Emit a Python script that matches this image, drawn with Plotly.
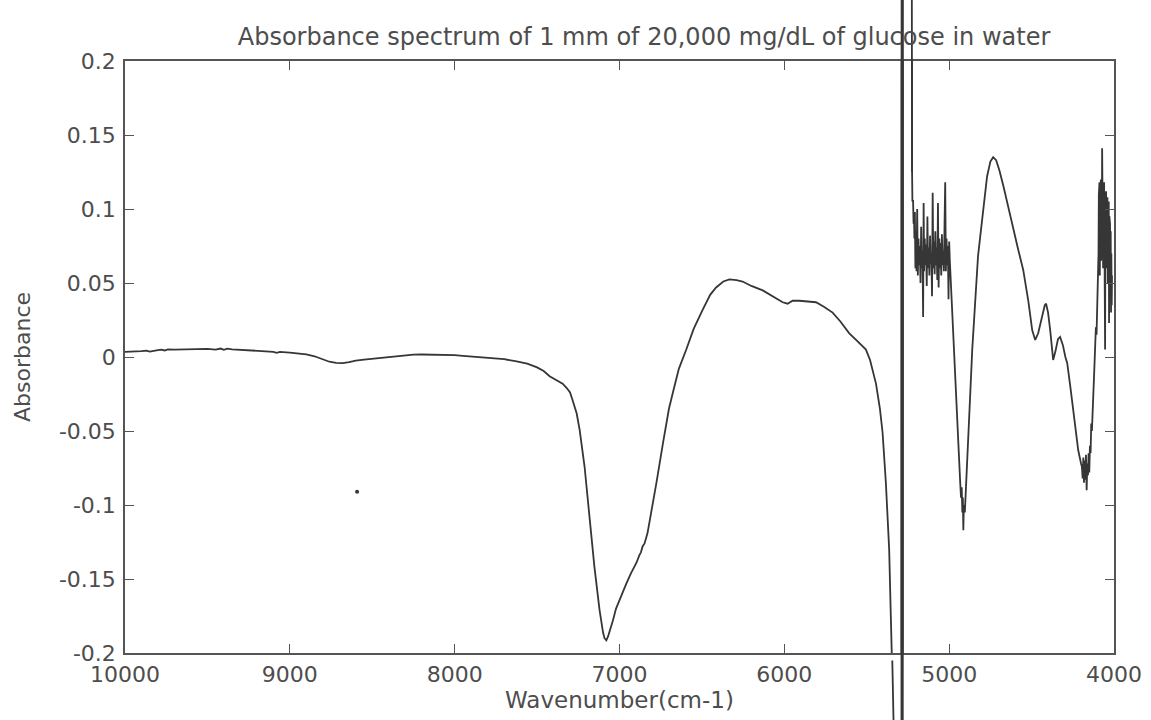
import numpy as np
import plotly.graph_objects as go

# ---------------- data ----------------
wavenumber = [
    10000, 9950, 9900, 9870, 9850, 9800, 9780, 9760, 9740, 9700, 9650, 9600, 9550, 9500,
    9450, 9420, 9400, 9380, 9350, 9300, 9250, 9200, 9150, 9100, 9080, 9060, 9000, 8950,
    8900, 8850, 8800, 8760, 8720, 8680, 8640, 8600, 8550, 8500, 8450, 8400, 8350, 8300,
    8250, 8200, 8100, 8000, 7950, 7900, 7850, 7800, 7700,
    7624, 7560, 7500, 7460, 7424, 7380, 7345, 7320, 7300, 7285, 7260, 7242, 7212, 7182, 7152, 7121,
    7110, 7100, 7091, 7080, 7070, 7061, 7040, 7021, 6990, 6958, 6930, 6897, 6880, 6870, 6860, 6848,
    6830, 6818, 6776, 6736, 6700, 6676, 6640, 6596, 6550, 6495, 6450, 6414, 6370, 6333, 6290,
    6253, 6200, 6131, 6070, 6010, 5980, 5950, 5909, 5860, 5808, 5760, 5707, 5660, 5606,
    5560, 5505, 5480, 5460, 5444, 5420, 5404, 5384, 5364, 5354, 5345, 5335, 5318,
    5290, 5288, 5286, 5284, 5282, 5280, 5231, 5229, 5228.5, 5228, 5227.5, 5227, 5225, 5223,
    5221, 5219, 5216, 5213, 5211,
    5208, 5205, 5202, 5198, 5194, 5190, 5186, 5182, 5178, 5174, 5170, 5166, 5162, 5158,
    5155, 5152, 5148, 5144, 5140, 5136, 5132, 5128, 5124, 5120, 5116, 5112, 5108, 5104,
    5100, 5096, 5092, 5088, 5084, 5080, 5076, 5072, 5068, 5064, 5060, 5056, 5052, 5048,
    5044, 5040, 5036, 5032, 5028, 5024, 5020, 5016, 5012, 5008, 5004, 5000, 4996, 4992,
    4985, 4976, 4965, 4951, 4940, 4933, 4928, 4924, 4920, 4917, 4914, 4911, 4905, 4898,
    4891, 4882, 4873, 4860, 4842, 4825, 4812, 4790, 4770, 4750, 4733, 4715, 4695, 4670,
    4640, 4612, 4580, 4551, 4520, 4496, 4478, 4460, 4436, 4420, 4412, 4400, 4387, 4375,
    4369, 4355, 4340, 4327, 4310, 4295, 4284, 4265, 4248, 4230, 4217, 4200,
    4195, 4190, 4186, 4182, 4178, 4174, 4170, 4166, 4162, 4158, 4154, 4150, 4146, 4142,
    4138, 4134, 4130, 4126, 4120, 4115, 4110, 4106, 4102, 4098,
    4094, 4092, 4090, 4088, 4086, 4084, 4082, 4080, 4078, 4076, 4074, 4072, 4070, 4068,
    4066, 4064, 4062, 4060, 4058, 4056, 4054, 4052, 4050, 4048, 4046, 4044, 4042, 4040,
    4038, 4036, 4034, 4032, 4030, 4028, 4026, 4024, 4022, 4020, 4018, 4016, 4014, 4012,
]

absorbance = [
    0.0035, 0.0036, 0.0040, 0.0043, 0.0037, 0.0046, 0.0050, 0.0044, 0.0052, 0.0050, 0.0052, 0.0055, 0.0054, 0.0055,
    0.0050, 0.0057, 0.0048, 0.0056, 0.0052, 0.0048, 0.0046, 0.0042, 0.0040, 0.0035, 0.0028, 0.0034, 0.0030, 0.0025,
    0.0018, 0.0005, -0.0015, -0.0032, -0.0040, -0.0041, -0.0035, -0.0025, -0.0018, -0.0012, -0.0005, 0.0002, 0.0008, 0.0014,
    0.0016, 0.0017, 0.0016, 0.0012, 0.0008, 0.0004, 0.0000, -0.0005, -0.0015,
    -0.003, -0.0045, -0.007, -0.0095, -0.013, -0.0155, -0.018, -0.021, -0.024, -0.029, -0.038, -0.049, -0.074, -0.108, -0.142, -0.171,
    -0.180, -0.186, -0.190, -0.1915, -0.189, -0.186, -0.178, -0.170, -0.161, -0.153, -0.146, -0.139, -0.134, -0.132, -0.128, -0.126,
    -0.119, -0.112, -0.085, -0.058, -0.035, -0.024, -0.008, 0.0047, 0.019, 0.032, 0.042, 0.047, 0.051, 0.0525, 0.052,
    0.051, 0.048, 0.045, 0.041, 0.037, 0.036, 0.038, 0.038, 0.0375, 0.037, 0.034, 0.030, 0.024, 0.016,
    0.011, 0.005, -0.002, -0.010, -0.018, -0.035, -0.051, -0.085, -0.130, -0.175, -0.205, -0.26, -0.6,
    -0.6, 0.6, -0.6, 0.6, -0.6, 0.6, 0.6, 0.178, 0.156, 0.175, 0.158, 0.170, 0.125, 0.105,
    0.097, 0.106, 0.090, 0.095, 0.080,
    0.098, 0.060, 0.085, 0.058, 0.100, 0.055, 0.080, 0.062, 0.075, 0.050, 0.088, 0.060, 0.072, 0.027,
    0.104, 0.058, 0.080, 0.062, 0.076, 0.048, 0.095, 0.060, 0.074, 0.055, 0.082, 0.063, 0.070, 0.041,
    0.111, 0.060, 0.078, 0.056, 0.085, 0.062, 0.074, 0.052, 0.104, 0.047, 0.080, 0.060, 0.077, 0.055,
    0.083, 0.062, 0.072, 0.058, 0.090, 0.118, 0.058, 0.080, 0.062, 0.075, 0.039, 0.078, 0.065, 0.055,
    0.040, 0.020, -0.010, -0.049, -0.072, -0.085, -0.095, -0.088, -0.105, -0.095, -0.117, -0.100, -0.105, -0.090,
    -0.072, -0.050, -0.027, 0.005, 0.041, 0.068, 0.081, 0.105, 0.122, 0.132, 0.135, 0.133, 0.126, 0.115,
    0.100, 0.086, 0.072, 0.059, 0.038, 0.018, 0.0115, 0.016, 0.027, 0.035, 0.036, 0.030, 0.018, 0.004,
    -0.002, 0.004, 0.012, 0.0135, 0.008, 0.000, -0.004, -0.020, -0.036, -0.052, -0.063, -0.072,
    -0.074, -0.082, -0.068, -0.085, -0.070, -0.083, -0.066, -0.090, -0.072, -0.080, -0.065, -0.078, -0.060, -0.065,
    -0.045, -0.050, -0.030, -0.027, -0.010, 0.005, 0.020, 0.015, 0.030, 0.052,
    0.070, 0.110, 0.060, 0.118, 0.055, 0.100, 0.070, 0.120, 0.065, 0.105, 0.080, 0.141, 0.075, 0.112,
    0.060, 0.100, 0.072, 0.118, 0.040, 0.115, 0.005, 0.105, 0.070, 0.112, 0.060, 0.095, 0.075, 0.108,
    0.050, 0.100, 0.070, 0.105, 0.023, 0.095, 0.060, 0.090, 0.040, 0.085, 0.030, 0.070, 0.035, 0.055,
]

stray_wavenumber = [8592]
stray_absorbance = [-0.091]

x_tickvals = [10000, 9000, 8000, 7000, 6000, 5000, 4000]
x_ticktext = ["10000", "9000", "8000", "7000", "6000", "5000", "4000"]
y_tickvals = [-0.2, -0.15, -0.1, -0.05, 0, 0.05, 0.1, 0.15, 0.2]
y_ticktext = ["-0.2", "-0.15", "-0.1", "-0.05", "0", "0.05", "0.1", "0.15", "0.2"]

title_text = "Absorbance spectrum of 1 mm of 20,000 mg/dL of glucose in water"
x_title = "Wavenumber(cm-1)"
y_title = "Absorbance"

# ---------------- layout geometry ----------------
W, H = 1151, 720
x_range = [10000, 4000]
y_range = [-0.2, 0.2]
px_left, px_right = 125, 1114
px_top, px_bottom = 61, 653
xdom = [px_left / W, px_right / W]
ydom = [1 - px_bottom / H, 1 - px_top / H]

# full-figure axes aligned with the main axes, so the saturated part of the
# spectrum can run past the frame as in the original plot
xs = (x_range[1] - x_range[0]) / (px_right - px_left)
ys = (y_range[1] - y_range[0]) / (px_bottom - px_top)
x2_range = [x_range[0] - px_left * xs, x_range[1] + (W - px_right) * xs]
y2_range = [y_range[0] - (H - px_bottom) * ys, y_range[1] + px_top * ys]

wn = np.array(wavenumber, dtype=float)
ab = np.array(absorbance, dtype=float)
over = (wn <= 5345) & (wn >= 5225)

FONT = "DejaVu Sans, Liberation Sans, Arial, sans-serif"
TXT = "#4d4d4d"
AX = "#555555"
LINE = "#363636"

fig = go.Figure()
fig.add_trace(go.Scatter(x=wn, y=ab, mode="lines", line=dict(color=LINE, width=1.8),
                         name="Absorbance", xaxis="x", yaxis="y", showlegend=False))
fig.add_trace(go.Scatter(x=wn[over], y=ab[over], mode="lines", line=dict(color=LINE, width=1.8),
                         name="Absorbance (off scale)", xaxis="x2", yaxis="y2", showlegend=False))
fig.add_trace(go.Scatter(x=stray_wavenumber, y=stray_absorbance, mode="markers",
                         marker=dict(color=LINE, size=4), xaxis="x", yaxis="y", showlegend=False))

axis_common = dict(showgrid=False, zeroline=False, showline=True, linecolor=AX, linewidth=1.5,
                   ticks="inside", ticklen=9, tickwidth=1.3, tickcolor=AX, mirror="ticks",
                   automargin=False,
                   tickfont=dict(family=FONT, size=22, color=TXT))

fig.update_layout(
    template="none",
    width=W, height=H,
    margin=dict(l=0, r=0, t=0, b=0, pad=0, autoexpand=False),
    paper_bgcolor="white", plot_bgcolor="rgba(0,0,0,0)",
    showlegend=False,
    title=dict(text=title_text, x=644 / W, xanchor="center", xref="paper",
               y=1 - 37 / H, yanchor="middle", yref="container", automargin=False,
               font=dict(family=FONT, size=24, color=TXT)),
    xaxis=dict(domain=xdom, range=x_range, anchor="y", tickvals=x_tickvals, ticktext=x_ticktext,
               ticklabelstandoff=1,
               title=dict(text=x_title, standoff=6, font=dict(family=FONT, size=23, color=TXT)),
               **axis_common),
    yaxis=dict(domain=ydom, range=y_range, anchor="x", tickvals=y_tickvals, ticktext=y_ticktext,
               ticklabelstandoff=3,
               title=dict(text=y_title, standoff=22, font=dict(family=FONT, size=22, color=TXT)),
               **axis_common),
    xaxis2=dict(domain=[0, 1], range=x2_range, anchor="y2", visible=False, fixedrange=True,
                automargin=False),
    yaxis2=dict(domain=[0, 1], range=y2_range, anchor="x2", visible=False, fixedrange=True,
                automargin=False),
)

fig.write_html("out.html")
